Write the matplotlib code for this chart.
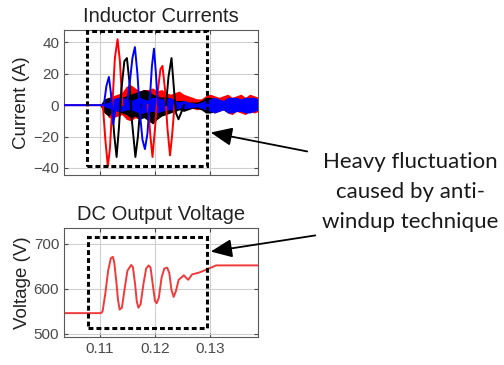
import numpy as np
import matplotlib.pyplot as plt
from matplotlib.patches import Rectangle, FancyArrowPatch

plt.rcParams['font.family'] = ['Liberation Sans', 'DejaVu Sans']

# large current swings (time in s, current in A), nan splits the segments
t_red = [0.1035, 0.11055, 0.1110, 0.11145, 0.11182, 0.11227, 0.11273, 0.11322, 0.11364, 0.11409, np.nan,
         0.11873, 0.11918, 0.11955, 0.1200, 0.12055, 0.1210, 0.12136, 0.12182, 0.12227, 0.12273, 0.12309, 0.12355]
i_red = [0, 0, -22, -39, -28, 0, 30, 42, 28, 0, np.nan,
         0, -20, -33, -15, 10, 23, 25, 10, -15, -32, -20, 0]

t_blk = [0.11218, 0.11264, 0.11304, 0.11345, 0.11391, 0.11445, 0.11491, 0.11536, 0.11582, 0.11645, 0.11691, 0.11736, np.nan,
         0.1220, 0.12245, 0.1230, 0.12345, 0.12382, 0.12427, 0.12473, 0.12527]
i_blk = [0, -20, -33, -15, 10, 28, 30, 15, -10, -33, -20, 0, np.nan,
         0, 18, 30, 10, -5, -9, -5, 0]

t_blu = [0.1035, 0.1100, 0.11073, 0.11118, 0.11164, 0.1120, 0.11245, 0.11291, np.nan,
         0.11491, 0.11545, 0.11591, 0.11636, 0.11682, 0.11727, 0.11773, 0.11818, 0.11864, 0.11909, 0.11945, 0.11982, 0.12018, 0.12055]
i_blu = [0, 0, 0, 12, 18, 8, -12, 0, np.nan,
         0, 15, 30, 37, 20, -5, -22, -28, -18, 5, 25, 36, 20, 0]

# switching ripple envelopes (upper / lower, A)
t_env = [0.1100, 0.1108, 0.1116, 0.1124, 0.1132, 0.1140, 0.1148, 0.1156, 0.1164, 0.1172,
         0.1180, 0.1188, 0.1196, 0.1204, 0.1212, 0.1220, 0.1228, 0.1236, 0.1244, 0.1252,
         0.1260, 0.1268, 0.1276, 0.1284, 0.1292, 0.1300, 0.1308, 0.1316, 0.1324, 0.1332,
         0.1340, 0.1348, 0.1356, 0.1364, 0.1372, 0.1380, 0.1388]
red_hi = [0, 3, 5, 6, 7, 8, 12, 13, 11, 9, 10, 10, 11, 9, 10, 8, 7, 8, 9, 7,
          6, 5, 4, 4, 6, 7, 6, 5, 6, 7, 5, 6, 7, 5, 7, 6, 5]
red_lo = [0, -3, -8, -8, -7, -6, -9, -10, -8, -9, -6, -4, -3, -4, -3, -5, -4, -3, -2, -3,
          -2, -2, -3, -2, -3, -4, -5, -4, -3, -5, -6, -4, -5, -6, -4, -5, -4]
blk_hi = [0, 4, 5, 3, 3, 5, 6, 7, 8, 9, 10, 9, 7, 6, 5, 6, 4, 3, 3, 3,
          2, 2, 2, 3, 5, 5, 4, 3, 3, 3, 3, 3, 3, 3, 3, 3, 3]
blk_lo = [0, -5, -7, -4, -3, -5, -6, -8, -7, -9, -8, -10, -12, -9, -7, -6, -5, -4, -3, -4,
          -3, -2, -2, -3, -5, -5, -4, -3, -3, -3, -3, -3, -3, -3, -3, -3, -3]
blu_hi = [0, 1, 2, 4, 5, 5, 4, 3, 4, 5, 4, 3, 5, 5, 4, 4, 5, 3, 2, 3,
          2, 1.5, 1, 2, 3, 4, 5, 4, 3, 5, 5, 5, 4, 5, 5, 5, 4]
blu_lo = [0, -1, -2, -3, -4, -4, -3, -3, -4, -5, -5, -4, -4, -5, -4, -3, -3, -3, -2, -2,
          -2, -1.5, -1, -2, -3, -4, -5, -4, -3, -5, -5, -4, -4, -5, -5, -4, -3]

# dc link voltage (V)
t_vdc = [0.1035, 0.1102, 0.1105, 0.1110, 0.1115, 0.1120, 0.11235, 0.1126, 0.1130, 0.1133,
         0.1136, 0.1140, 0.1145, 0.1150, 0.11569, 0.1160, 0.1164, 0.1167, 0.1170, 0.1174,
         0.1179, 0.1184, 0.11887, 0.1192, 0.1196, 0.1200, 0.1203, 0.1207, 0.1212, 0.1217,
         0.12222, 0.1226, 0.1230, 0.1234, 0.1238, 0.1243, 0.12524, 0.1256, 0.12605, 0.12673,
         0.1280, 0.1294, 0.1311, 0.1387]
v_dc = [546, 546, 550, 590, 640, 668, 671, 660, 615, 575,
        554, 558, 600, 640, 653, 648, 610, 572, 558, 566,
        610, 645, 652, 647, 610, 573, 568, 580, 625, 645,
        647, 635, 597, 582, 595, 620, 630, 625, 620, 632,
        636, 643, 652, 652]

x_ticks = [0.11, 0.12, 0.13]
x_labels = ['0.11', '0.12', '0.13']

fig = plt.figure(figsize=(5.04, 3.65), dpi=100)
ax1 = fig.add_axes([0.127, 0.5205, 0.385, 0.397])
ax2 = fig.add_axes([0.127, 0.0767, 0.385, 0.2986])

ax1.fill_between(t_env, red_lo, red_hi, color='#ff0000', lw=0, zorder=2)
ax1.fill_between(t_env, blk_lo, blk_hi, color='black', lw=0, zorder=2)
ax1.fill_between(t_env, blu_lo, blu_hi, color='#0000ff', lw=0, zorder=2)
ax1.plot(t_red, i_red, color='#ff0000', lw=1.4, zorder=3)
ax1.plot(t_blk, i_blk, color='black', lw=1.4, zorder=3)
ax1.plot(t_blu, i_blu, color='#0000ff', lw=1.4, zorder=3)

ax2.plot(t_vdc, v_dc, color='#f23a3a', lw=1.4)

for ax in (ax1, ax2):
    ax.set_xlim(0.1035, 0.1387)
    ax.set_xticks(x_ticks)
    ax.grid(True, color='#cfcfcf', lw=0.8)
    ax.set_axisbelow(True)
    ax.tick_params(direction='in', length=3, labelsize=11, colors='#4a4a4a',
                   top=True, right=True)
    for s in ax.spines.values():
        s.set_color('#5a5a5a')
        s.set_linewidth(0.8)

ax1.set_ylim(-44.5, 47.8)
ax1.set_yticks([-40, -20, 0, 20, 40])
ax1.set_xticklabels([])
ax1.set_title('Inductor Currents', fontsize=14.5, color='#222222', pad=6)
ax1.set_ylabel('Current (A)', fontsize=13.5, color='#222222', labelpad=2)

ax2.set_ylim(493, 735)
ax2.set_yticks([500, 600, 700])
ax2.set_xticklabels(x_labels)
ax2.set_title('DC Output Voltage', fontsize=14.5, color='#222222', pad=6)
ax2.set_ylabel('Voltage (V)', fontsize=13.5, color='#222222', labelpad=2)

# dashed boxes around the transient
box_style = dict(fill=False, ec='black', lw=2.2, ls=(0, (1.6, 1.0)), clip_on=False, zorder=5)
ax1.add_patch(Rectangle((0.1077, -38.7), 0.1294 - 0.1077, 47.4 + 38.7, **box_style))
ax2.add_patch(Rectangle((0.1079, 513), 0.1294 - 0.1079, 716 - 513, **box_style))

fig.text(0.8135, 0.474, 'Heavy fluctuation\ncaused by anti-\nwindup technique',
         family=['Lato', 'DejaVu Sans'], fontsize=16, ha='center', va='center',
         linespacing=1.6, color='#1a1a1a')

arrow_style = '-|>,head_length=0.65,head_width=0.28'
fig.add_artist(FancyArrowPatch((0.615, 0.5836), (0.4127, 0.6384), transform=fig.transFigure,
                               arrowstyle=arrow_style, mutation_scale=20, lw=1.3, color='black'))
fig.add_artist(FancyArrowPatch((0.631, 0.3562), (0.4127, 0.3096), transform=fig.transFigure,
                               arrowstyle=arrow_style, mutation_scale=20, lw=1.3, color='black'))

fig.savefig('out.png', dpi=100)
